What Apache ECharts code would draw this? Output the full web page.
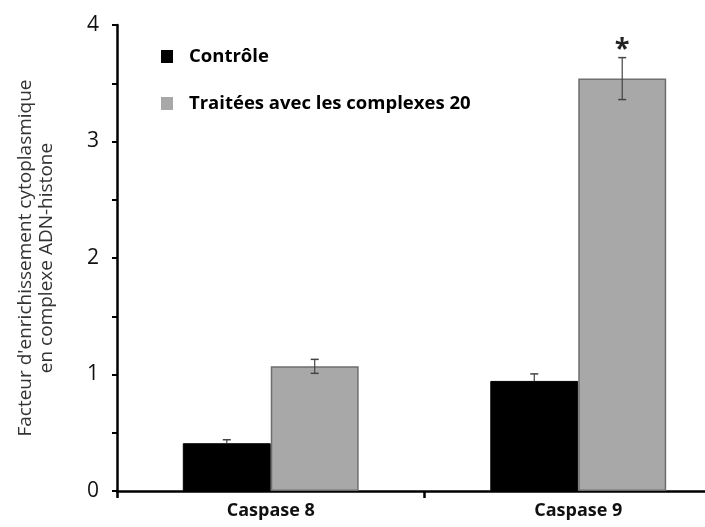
<!DOCTYPE html>
<html>
<head>
<meta charset="utf-8">
<script src="https://cdn.jsdelivr.net/npm/echarts@6/dist/echarts.min.js"></script>
<style>
  html, body { margin: 0; padding: 0; background: #fff; }
  #chart { width: 705px; height: 527px; }
</style>
</head>
<body>
<div id="chart"></div>
<script>
// data
const categories = ['Caspase 8', 'Caspase 9'];
const controlValues = [0.41, 0.945];
const controlErrors = [0.03, 0.06];
const treatedValues = [1.07, 3.54];
const treatedErrors = [0.06, 0.18];
const treatedSig = ['', '*'];

const BAR_FRAC = 0.286;
const FONT = '"Open Sans", sans-serif';

let chart = echarts.init(document.getElementById('chart'));

// error bars (and the significance star) drawn on top of the grouped bars
function errorBar(values, errors, side, sig) {
    return {
        type: 'custom',
        silent: true,
        z: 5,
        data: values.map((v, i) => [i, v, errors[i]]),
        renderItem: function (params, api) {
            let i = api.value(0);
            let v = api.value(1);
            let e = api.value(2);
            let catW = api.size([1, 0])[0];
            let off = side * catW * BAR_FRAC / 2;
            let top = api.coord([i, v + e]);
            let bot = api.coord([i, v]);
            if (sig) bot = api.coord([i, v - e]);
            let x = top[0] + off;
            let children = [
                {type: 'line', shape: {x1: x, y1: top[1], x2: x, y2: bot[1]}, style: {stroke: '#444', lineWidth: 1.2}},
                {type: 'line', shape: {x1: x - 4, y1: top[1], x2: x + 4, y2: top[1]}, style: {stroke: '#444', lineWidth: 1.5}}
            ];
            if (sig) {
                children.push({type: 'line', shape: {x1: x - 4, y1: bot[1], x2: x + 4, y2: bot[1]}, style: {stroke: '#444', lineWidth: 1.5}});
                if (sig[i]) {
                    children.push({
                        type: 'text',
                        style: {
                            x: x, y: top[1] + 5, text: sig[i], align: 'center', verticalAlign: 'bottom',
                            font: 'bold 27px ' + FONT, fill: '#222'
                        }
                    });
                }
            }
            return {type: 'group', children: children};
        }
    };
}

chart.setOption({
    animation: false,
    grid: {left: 117, top: 25, bottom: 36, width: 615, outerBoundsMode: 'none', containLabel: false},
    legend: {
        orient: 'vertical',
        left: 156,
        top: 42,
        itemGap: 28,
        itemWidth: 12,
        itemHeight: 13,
        icon: 'rect',
        selectedMode: false,
        textStyle: {fontFamily: FONT, fontWeight: 'bold', fontSize: 18.5, lineHeight: 18, color: '#000', padding: [0, 0, 0, 11]},
        data: [
            {name: 'Contrôle', itemStyle: {color: '#000', borderWidth: 0}},
            {name: 'Traitées avec les complexes 20', itemStyle: {color: '#a8a8a8', borderWidth: 0}}
        ]
    },
    xAxis: {
        type: 'category',
        data: categories,
        axisLine: {lineStyle: {color: '#000', width: 2.5}},
        axisTick: {show: true, length: 7, lineStyle: {color: '#000', width: 2.5}},
        axisLabel: {fontFamily: FONT, fontWeight: 'bold', fontSize: 18, color: '#111', margin: 11}
    },
    yAxis: {
        type: 'value',
        min: 0,
        max: 4,
        interval: 0.5,
        name: "Facteur d'enrichissement cytoplasmique\nen complexe ADN-histone",
        nameLocation: 'middle',
        nameGap: 60,
        nameTextStyle: {fontFamily: FONT, fontSize: 19, color: '#333', lineHeight: 21},
        axisLine: {show: true, lineStyle: {color: '#000', width: 2.5}},
        axisTick: {show: true, length: 5, lineStyle: {color: '#000', width: 2}},
        splitLine: {show: false},
        axisLabel: {
            fontFamily: FONT, fontSize: 21, color: '#111', margin: 18,
            formatter: v => (v % 1 === 0 ? String(v) : '')
        }
    },
    series: [
        {
            name: 'Contrôle',
            type: 'bar',
            data: controlValues,
            barWidth: (BAR_FRAC * 100) + '%',
            barGap: '0%',
            itemStyle: {color: '#000', borderColor: '#000', borderWidth: 1}
        },
        {
            name: 'Traitées avec les complexes 20',
            type: 'bar',
            data: treatedValues,
            barWidth: (BAR_FRAC * 100) + '%',
            barGap: '0%',
            itemStyle: {color: '#a8a8a8', borderColor: '#6e6e6e', borderWidth: 1.5}
        },
        errorBar(controlValues, controlErrors, -1, null),
        errorBar(treatedValues, treatedErrors, 1, treatedSig)
    ]
});
</script>
</body>
</html>
